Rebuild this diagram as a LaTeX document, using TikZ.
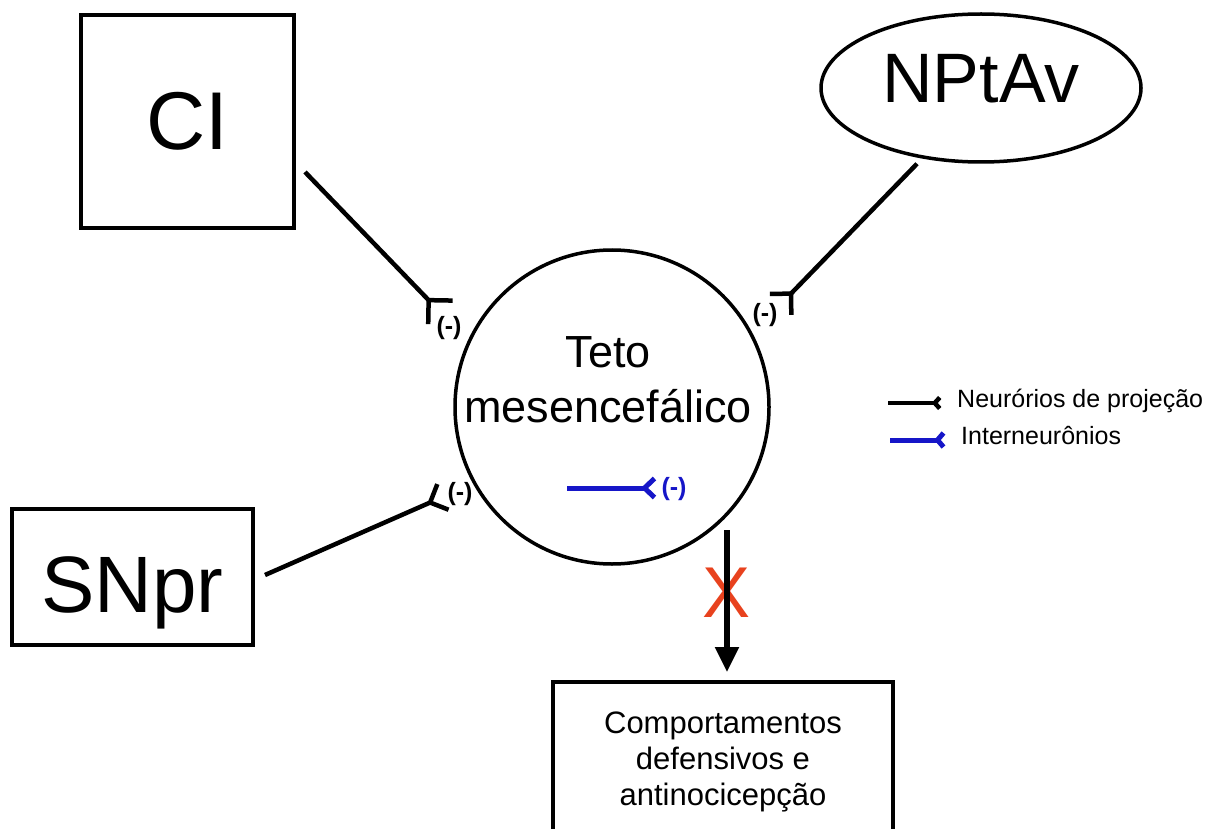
\documentclass[tikz,border=0pt]{standalone}
\usepackage{fontspec}
\setmainfont{Liberation Sans}
\usetikzlibrary{positioning,arrows.meta,shapes.geometric}
\definecolor{interblue}{RGB}{22,22,200}
\definecolor{xred}{RGB}{232,66,30}
\begin{document}
\begin{tikzpicture}[x=1pt, y=-1pt,
  box/.style={draw, line width=4pt, inner sep=0pt},
  syn/.style 2 args={line width=4.5pt, -{Straight Barb[reversed, sharp, length=#1, width=#2, line width=4.5pt]}},
  inter/.style 2 args={draw=interblue, line width=5pt, -{Straight Barb[reversed, sharp, length=#1, width=#2, line width=5pt]}},
  neg/.style={font=\fontsize{25}{28}\selectfont\bfseries, inner sep=0pt},
  leg/.style={font=\fontsize{25}{28}\selectfont, anchor=west, inner sep=0pt},
  bigarr/.style={line width=5.5pt, -{Triangle[length=25pt, width=23pt]}}]
\clip (0,0) rectangle (1218,829);
\node[box, minimum width=213pt, minimum height=213pt, font=\fontsize{82}{90}\selectfont] (ci) at (187.5,121.5) {CI};
\node[ellipse, draw, line width=3.5pt, inner sep=0pt, minimum width=320pt, minimum height=148pt, text depth=20pt, font=\fontsize{70}{80}\selectfont] (np) at (981,88) {NPtAv};
\node[box, minimum width=241pt, minimum height=136pt, text height=70pt, text depth=0pt, font=\fontsize{80}{90}\selectfont] (sn) at (132.5,577) {SNpr};
\node[circle, draw, line width=3.5pt, minimum size=314pt, inner sep=0pt] (teto) at (612,407) {};
\node[align=center, font=\fontsize{45}{55}\selectfont] (tetotxt) at (608,380) {Teto\\mesencefálico};
\node[box, minimum width=340pt, minimum height=160pt, align=center, font=\fontsize{31}{36}\selectfont] (comp) at (723,762) {Comportamentos\\defensivos e\\antinocicepção};
\node[text=xred, font=\fontsize{72}{80}\selectfont, inner sep=0pt] (xmark) at (727,593) {X};
\coordinate (cisyn) at (442,314); \coordinate (npsyn) at (779,306); \coordinate (snsyn) at (445,496);
\coordinate (ia) at (567,488); \coordinate (ib) at (657,488); \coordinate (cut) at (727,530);
\draw[syn={17pt}{34pt}] ([xshift=9pt,yshift=-50.5pt]ci.east) -- (cisyn);
\draw[syn={15pt}{30pt}] ([xshift=-64pt]np.south) -- (npsyn);
\draw[syn={14pt}{28pt}] ([xshift=10pt,yshift=2pt]sn.east) -- (snsyn);
\draw[inter={10pt}{19pt}] (ia) -- (ib);
\draw[bigarr, shorten >=8pt] (cut) -- (cut |- comp.north);
\node[neg] (cineg) at (449,328) {(-)};
\node[neg] (npneg) at (765,315) {(-)};
\node[neg] (snneg) at (460,494) {(-)};
\node[neg, text=interblue] (inneg) at (674,489) {(-)};
\coordinate (lg1a) at (888,403); \coordinate (lg1b) at (942,403);
\coordinate (lg2a) at (890,440); \coordinate (lg2b) at (946,440);
\draw[syn={5pt}{11pt}] (lg1a) -- (lg1b);
\draw[inter={6pt}{14pt}] (lg2a) -- (lg2b);
\node[leg] (leg1) at (957,401) {Neurórios de projeção};
\node[leg] (leg2) at (961,436) {Interneurônios};
\end{tikzpicture}
\end{document}
